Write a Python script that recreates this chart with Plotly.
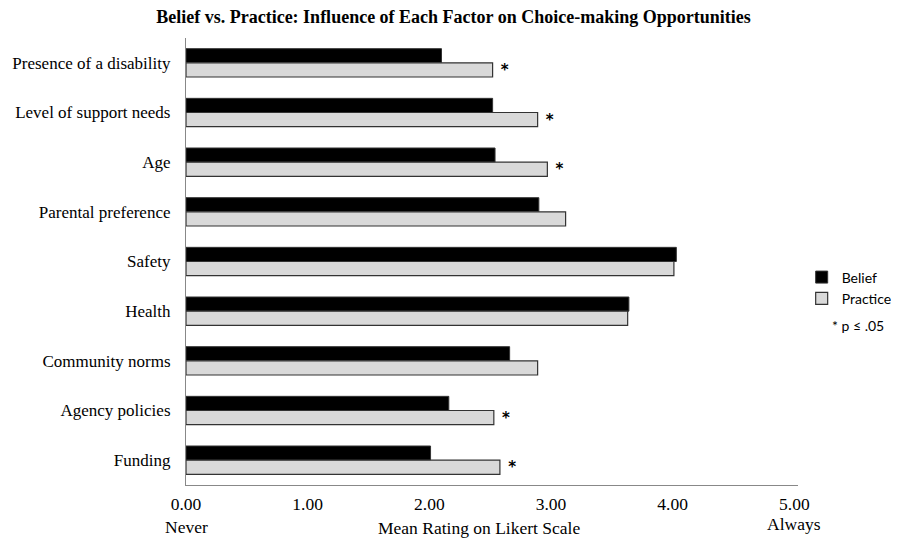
import plotly.graph_objects as go

categories = ["Presence of a disability", "Level of support needs", "Age",
              "Parental preference", "Safety", "Health", "Community norms",
              "Agency policies", "Funding"]
belief = [2.10, 2.52, 2.54, 2.90, 4.03, 3.64, 2.66, 2.16, 2.01]
practice = [2.52, 2.89, 2.97, 3.12, 4.01, 3.63, 2.89, 2.53, 2.58]
significant = [True, True, True, False, False, False, False, True, True]
tick_vals = [0, 1, 2, 3, 4, 5]

serif = "Liberation Serif, Times New Roman, serif"
sans = "Lato, Liberation Sans, sans-serif"

fig = go.Figure()
fig.add_trace(go.Bar(
    y=categories, x=belief, orientation="h", name="Belief",
    marker=dict(color="#000000", line=dict(color="#333333", width=1)),
))
fig.add_trace(go.Bar(
    y=categories, x=practice, orientation="h", name="Practice",
    marker=dict(color="#d9d9d9", line=dict(color="#333333", width=1.2)),
    text=[" *" if s else "" for s in significant],
    textposition="outside", cliponaxis=False, constraintext="none",
    textfont=dict(family="DejaVu Sans, sans-serif", size=15, color="#000000", weight="bold"),
))

# page body has an 8px default margin, so the figure is sized to fit inside the window
fig.update_layout(
    width=891, height=537,
    margin=dict(l=178, r=101, t=30, b=60, autoexpand=False),
    paper_bgcolor="white", plot_bgcolor="white",
    barmode="group", bargap=0.43, bargroupgap=0,
    title=dict(text="<b>Belief vs. Practice: Influence of Each Factor on Choice-making Opportunities</b>",
               x=0.500, xanchor="center", y=0.983, yanchor="middle",
               font=dict(family=serif, size=18, color="#000000")),
    showlegend=True,
    legend=dict(x=1.006, y=0.50, xanchor="left", yanchor="top",
                font=dict(family=sans, size=14, color="#000000"),
                bgcolor="rgba(0,0,0,0)", itemwidth=30, traceorder="normal"),
    xaxis=dict(range=[0, 5.03], tickvals=tick_vals, tickformat=".2f",
               showgrid=False, zeroline=False, showline=True,
               linecolor="#888888", linewidth=1.2, ticks="",
               ticklabelstandoff=3, automargin=False,
               tickfont=dict(family=serif, size=17.5, color="#000000")),
    yaxis=dict(autorange="reversed", showgrid=False, showline=True,
               linecolor="#888888", linewidth=1.2, ticks="",
               ticklabelstandoff=11, automargin=False,
               tickfont=dict(family=serif, size=17, color="#000000")),
    annotations=[
        dict(text="Never", x=0, y=-0.094, xref="x", yref="paper",
             showarrow=False, xanchor="center", yanchor="middle",
             font=dict(family=serif, size=17.5, color="#000000")),
        dict(text="Always", x=5, y=-0.088, xref="x", yref="paper",
             showarrow=False, xanchor="center", yanchor="middle",
             font=dict(family=serif, size=17.5, color="#000000")),
        dict(text="Mean Rating on Likert Scale", x=0.478, y=-0.096, xref="paper", yref="paper",
             showarrow=False, xanchor="center", yanchor="middle",
             font=dict(family=serif, size=17.5, color="#000000")),
        dict(text="* p ≤ .05", x=1.052, y=0.356, xref="paper", yref="paper",
             showarrow=False, xanchor="left", yanchor="middle",
             font=dict(family=sans, size=14, color="#000000")),
    ],
)

fig.write_html("out.html")
